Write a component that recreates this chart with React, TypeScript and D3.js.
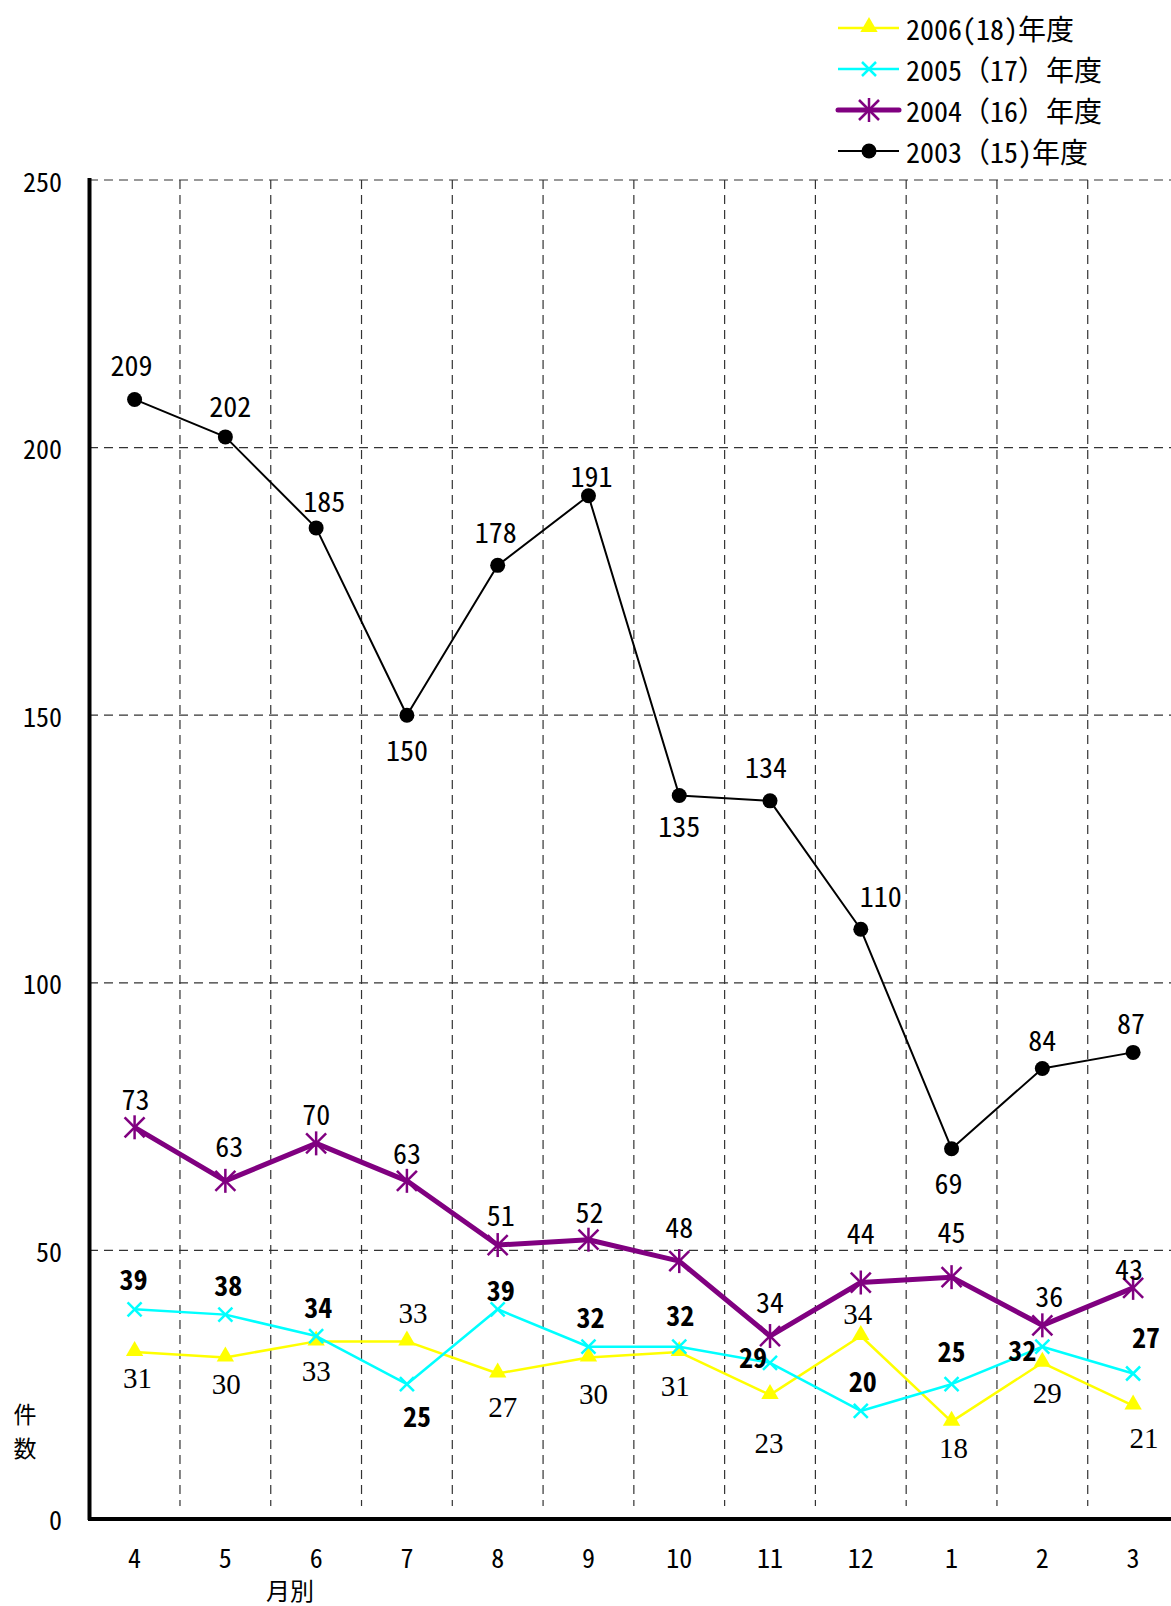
import React, { useEffect } from 'react';
import * as d3 from 'd3';

const months = ['4', '5', '6', '7', '8', '9', '10', '11', '12', '1', '2', '3'];
const yTicks = [0, 50, 100, 150, 200, 250];

const fy2003 = [209, 202, 185, 150, 178, 191, 135, 134, 110, 69, 84, 87];
const fy2004 = [73, 63, 70, 63, 51, 52, 48, 34, 44, 45, 36, 43];
const fy2005 = [39, 38, 34, 25, 39, 32, 32, 29, 20, 25, 32, 27];
const fy2006 = [31, 30, 33, 33, 27, 30, 31, 23, 34, 18, 29, 21];

// label nudges [dx, dy] relative to the point (baseline)
const lab2003 = [[-3, -23], [5, -20], [8, -16], [0, 46], [-2, -22], [3, -9], [0, 42], [-4, -23], [20, -22], [-3, 45], [0, -17], [-2, -18]];
const lab2004 = [[1, -17], [4, -24], [0, -18], [0, -17], [3, -19], [1, -17], [0, -23], [0, -23], [0, -39], [0, -34], [7, -18], [-4, -8]];
const lab2005 = [[-1, -19], [3, -19], [2, -18], [10, 43], [3, -8], [2, -19], [1, -21], [-17, 5], [2, -19], [0, -22], [-20, 14], [13, -25]];
const lab2006 = [[3, 36], [1, 37], [0, 40], [6, -18], [5, 44], [5, 47], [-4, 44], [-1, 58], [-3, -12], [2, 36], [5, 40], [11, 42]];

const W = 1171;
const H = 1606;
const SANS = '"Noto Sans Mono CJK JP", "Noto Sans CJK JP", "Noto Sans", sans-serif';
const SERIF = '"Liberation Serif", "DejaVu Serif", serif';

const x = d3.scaleBand<string>().domain(months).range([89.2, 1178.5]).padding(0);
const y = d3.scaleLinear().domain([0, 250]).range([1518, 180]);
const cx = (i: number) => (x(months[i]) as number) + x.bandwidth() / 2;

type Series = {
  name: string;
  values: number[];
  labels: number[][];
  color: string;
  width: number;
  marker: 'circle' | 'star' | 'x' | 'tri';
  font: string;
  weight: number;
  size: number;
};

const series: Series[] = [
  { name: '2003（15)年度', values: fy2003, labels: lab2003, color: '#000000', width: 2, marker: 'circle', font: SANS, weight: 400, size: 28 },
  { name: '2004（16）年度', values: fy2004, labels: lab2004, color: '#800080', width: 5, marker: 'star', font: SANS, weight: 400, size: 28 },
  { name: '2005（17）年度', values: fy2005, labels: lab2005, color: '#00FFFF', width: 2.5, marker: 'x', font: SANS, weight: 700, size: 28 },
  { name: '2006(18)年度', values: fy2006, labels: lab2006, color: '#FFFF00', width: 2.5, marker: 'tri', font: SERIF, weight: 400, size: 29 },
];

const legendOrder = [3, 2, 1, 0];

function Marker({ kind, color, px, py }: { kind: string; color: string; px: number; py: number }) {
  if (kind === 'circle') return <circle cx={px} cy={py} r={7.5} fill={color} />;
  if (kind === 'tri') {
    const tri = d3.symbol().type(d3.symbolTriangle).size(130)();
    return <path d={tri as string} transform={`translate(${px},${py - 1})`} fill={color} />;
  }
  if (kind === 'x') {
    const s = 7;
    return (
      <g stroke={color} strokeWidth={2.5}>
        <line x1={px - s} y1={py - s} x2={px + s} y2={py + s} />
        <line x1={px - s} y1={py + s} x2={px + s} y2={py - s} />
      </g>
    );
  }
  const s = 10;
  return (
    <g stroke={color} strokeWidth={2.5}>
      <line x1={px - s} y1={py - s} x2={px + s} y2={py + s} />
      <line x1={px - s} y1={py + s} x2={px + s} y2={py - s} />
      <line x1={px} y1={py - 12} x2={px} y2={py + 12} />
    </g>
  );
}

export default function App() {
  useEffect(() => {
    document.body.style.margin = '0';
  }, []);

  const line = d3
    .line<number>()
    .x((_, i) => cx(i))
    .y((d) => y(d));

  return (
    <svg width={W} height={H} style={{ display: 'block', background: '#fff' }} fontFamily={SANS}>
      {/* horizontal grid */}
      {yTicks.filter((t) => t > 0).map((t) => (
        <line key={'h' + t} x1={89} x2={W} y1={y(t)} y2={y(t)} stroke="#333" strokeWidth={1.2} strokeDasharray="9,6" />
      ))}
      {/* vertical grid at band edges */}
      {months.slice(1).map((m) => (
        <line key={'v' + m} x1={x(m)} x2={x(m)} y1={180} y2={1506} stroke="#333" strokeWidth={1.2} strokeDasharray="9,6" />
      ))}

      {/* axes */}
      <line x1={89.5} x2={89.5} y1={178} y2={1520} stroke="#000" strokeWidth={4} />
      <line x1={88} x2={W} y1={1519} y2={1519} stroke="#000" strokeWidth={4} />

      {yTicks.map((t) => (
        <text key={'yt' + t} x={62} y={y(t)} textAnchor="end" dominantBaseline="central" fontSize={26}>
          {t}
        </text>
      ))}
      {months.map((m, i) => (
        <text key={'xt' + m} x={cx(i)} y={1556} textAnchor="middle" dominantBaseline="central" fontSize={26}>
          {m}
        </text>
      ))}
      <text x={25} y={1413} textAnchor="middle" dominantBaseline="central" fontSize={23}>件</text>
      <text x={25} y={1447} textAnchor="middle" dominantBaseline="central" fontSize={23}>数</text>
      <text x={290} y={1589} textAnchor="middle" dominantBaseline="central" fontSize={24}>月別</text>

      {/* series, bottom-most drawn first */}
      {[3, 2, 1, 0].map((si) => {
        const s = series[si];
        return (
          <g key={s.name}>
            <path d={line(s.values) as string} fill="none" stroke={s.color} strokeWidth={s.width} strokeLinejoin="round" />
            {s.values.map((v, i) => (
              <Marker key={i} kind={s.marker} color={s.color} px={cx(i)} py={y(v)} />
            ))}
          </g>
        );
      })}
      {series.map((s) =>
        s.values.map((v, i) => (
          <text
            key={s.name + 'l' + i}
            x={cx(i) + s.labels[i][0]}
            y={y(v) + s.labels[i][1]}
            textAnchor="middle"
            fontFamily={s.font}
            fontWeight={s.weight}
            fontSize={s.size}
            fill="#000"
          >
            {v}
          </text>
        ))
      )}

      {/* legend */}
      {legendOrder.map((si, r) => {
        const s = series[si];
        const ly = 28 + r * 41;
        return (
          <g key={'lg' + si}>
            <line x1={838} x2={899} y1={ly} y2={ly} stroke={s.color} strokeWidth={s.width} strokeLinecap={si === 1 ? 'round' : 'butt'} />
            <Marker kind={s.marker} color={s.color} px={869} py={ly} />
            <text x={906} y={ly} dominantBaseline="central" fontSize={28}>
              {s.name}
            </text>
          </g>
        );
      })}
    </svg>
  );
}
